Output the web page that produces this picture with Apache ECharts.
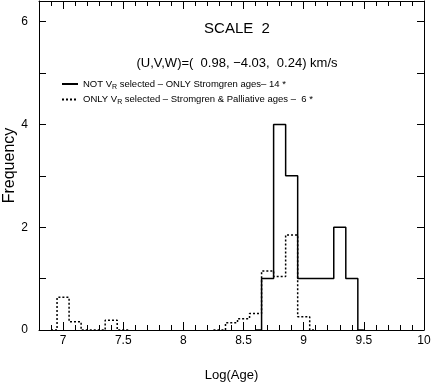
<!DOCTYPE html>
<html>
<head>
<meta charset="utf-8">
<script src="https://cdn.jsdelivr.net/npm/echarts@6/dist/echarts.min.js"></script>
<style>
  html, body { margin: 0; padding: 0; background: #fff; }
  #chart { width: 432px; height: 387px; }
</style>
</head>
<body>
<div id="chart"></div>
<script>
// histogram bins (bin centres, width 0.1 in Log(Age)); null = empty bin, not drawn
const solidBins = [8.6, 8.7, 8.8, 8.9, 9.0, 9.1, 9.2, 9.3, 9.4, 9.5]
const solidFreq = [0, 1, 4, 3, 1, 1, 1, 2, 1, 0]

const dottedBins = [6.9, 7.0, 7.1, 7.2, 7.3, 7.4, 7.5, 7.6, 7.7, 7.8, 7.9, 8.0, 8.1, 8.2, 8.3, 8.4, 8.5, 8.6, 8.7, 8.8, 8.9, 9.0, 9.1]
const dottedFreq = [0, 0.635, 0.16, 0, 0, 0.19, 0, null, null, null, null, null, null, null, 0, 0.14, 0.22, 0.32, 1.15, 1.04, 1.85, 0.26, 0]

const xMajorTicks = [7, 7.5, 8, 8.5, 9, 9.5, 10]
const yLabels = [0, 2, 4, 6]

const solidName = 'NOT VR selected \u2013 ONLY Stromgren ages\u2013 14 *'
const dottedName = 'ONLY VR selected \u2013 Stromgren & Palliative ages \u2013  6 *'

const FONT = "'Liberation Sans', Arial, sans-serif"

const chart = echarts.init(document.getElementById('chart'))

const xBase = { type: 'value', min: 6.8, max: 10, gridIndex: 0, splitLine: { show: false } }
const yBase = { type: 'value', min: 0, max: 6.4, interval: 1, splitLine: { show: false } }
const black = { color: '#000', width: 1 }

// splits the dotted histogram where bins are empty
function toPoints(bins, freq) {
  return bins.map((x, i) => (freq[i] === null ? [x, '-'] : [x, freq[i]]))
}

chart.setOption({
  animation: false,
  backgroundColor: '#fff',
  textStyle: { fontFamily: FONT, color: '#000' },
  title: {
    text: 'SCALE  2',
    subtext: '(U,V,W)=(  0.98, \u22124.03,  0.24) km/s',
    left: 232,
    top: 16,
    textAlign: 'center',
    itemGap: 21,
    textStyle: { fontFamily: FONT, fontSize: 15, fontWeight: 'normal', color: '#000' },
    subtextStyle: { fontFamily: FONT, fontSize: 13, color: '#000' },
  },
  legend: {
    orient: 'vertical',
    left: 56,
    top: 74,
    itemWidth: 16,
    itemHeight: 8,
    itemGap: 4,
    itemStyle: { opacity: 0 },
    data: [solidName, dottedName],
    formatter: (name) => name.replace('VR', 'V{sub|R}'),
    textStyle: {
      fontFamily: FONT,
      fontSize: 9.5,
      color: '#000',
      rich: { sub: { fontSize: 7, verticalAlign: 'bottom', padding: [6, 0, 0, 0], fontFamily: FONT } },
    },
  },
  grid: { left: 39, right: 8, top: 1, bottom: 57, show: false, outerBoundsMode: 'none', containLabel: false },
  xAxis: [
    {
      ...xBase,
      position: 'bottom',
      name: 'Log(Age)',
      nameLocation: 'middle',
      nameGap: 39,
      nameMoveOverlap: false,
      nameTextStyle: { fontFamily: FONT, fontSize: 13, color: '#000' },
      axisLine: { show: true, lineStyle: black },
      axisTick: { show: true, inside: true, length: 8, customValues: xMajorTicks, lineStyle: black },
      axisLabel: { customValues: xMajorTicks, margin: 5, fontSize: 12, color: '#000', fontFamily: FONT },
    },
    {
      ...xBase,
      position: 'bottom',
      interval: 0.1,
      axisLine: { show: false },
      axisTick: { show: true, inside: true, length: 5, lineStyle: black },
      axisLabel: { show: false },
    },
    {
      ...xBase,
      position: 'top',
      axisLine: { show: true, lineStyle: black },
      axisTick: { show: true, inside: true, length: 8, customValues: xMajorTicks, lineStyle: black },
      axisLabel: { show: false },
    },
    {
      ...xBase,
      position: 'top',
      interval: 0.1,
      axisLine: { show: false },
      axisTick: { show: true, inside: true, length: 5, lineStyle: black },
      axisLabel: { show: false },
    },
  ],
  yAxis: [
    {
      ...yBase,
      position: 'left',
      name: 'Frequency',
      nameLocation: 'middle',
      nameRotate: 90,
      nameGap: 21,
      nameMoveOverlap: false,
      nameTextStyle: { fontFamily: FONT, fontSize: 16, color: '#000' },
      axisLine: { show: true, lineStyle: black },
      axisTick: { show: true, inside: true, length: 7, lineStyle: black },
      axisLabel: {
        margin: 11,
        fontSize: 12,
        color: '#000',
        fontFamily: FONT,
        formatter: (v) => (yLabels.includes(v) ? String(v) : ''),
      },
    },
    {
      ...yBase,
      position: 'right',
      axisLine: { show: true, lineStyle: black },
      axisTick: { show: true, inside: true, length: 7, lineStyle: black },
      axisLabel: { show: false },
    },
  ],
  series: [
    {
      name: solidName,
      type: 'line',
      step: 'middle',
      symbol: 'none',
      xAxisIndex: 0,
      yAxisIndex: 0,
      lineStyle: { color: '#000', width: 1.5 },
      itemStyle: { color: '#000' },
      data: toPoints(solidBins, solidFreq),
      z: 3,
    },
    {
      name: dottedName,
      type: 'line',
      step: 'middle',
      symbol: 'none',
      connectNulls: false,
      xAxisIndex: 0,
      yAxisIndex: 0,
      lineStyle: { color: '#000', width: 1.5, type: [2, 2] },
      itemStyle: { color: '#000' },
      data: toPoints(dottedBins, dottedFreq),
      z: 2,
    },
  ],
})
</script>
</body>
</html>
